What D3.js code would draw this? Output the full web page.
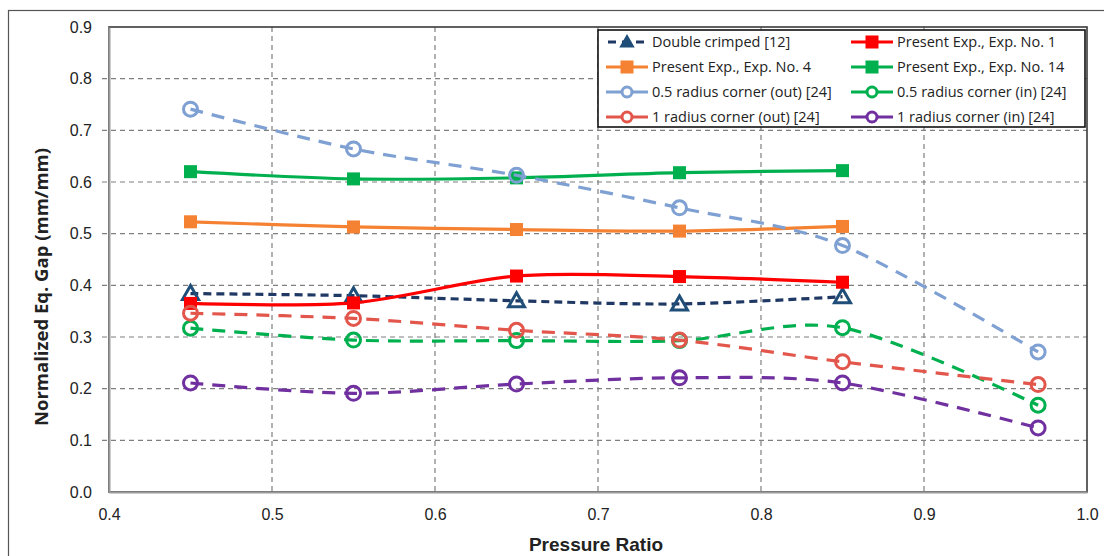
<!DOCTYPE html>
<html>
<head>
<meta charset="utf-8">
<script src="https://cdn.jsdelivr.net/npm/d3@7"></script>
<style>
  body { margin: 0; background: #fff; }
  svg text { fill: #222; }
</style>
</head>
<body>
<div id="vis"></div>
<script>
// chart size + plot margins
const FRAME_WIDTH = 1104;
const FRAME_HEIGHT = 556;
const MARGINS = {left: 109, right: 17, top: 27, bottom: 64};

// data
const xTicks = [0.4, 0.5, 0.6, 0.7, 0.8, 0.9, 1.0];
const yTicks = [0.0, 0.1, 0.2, 0.3, 0.4, 0.5, 0.6, 0.7, 0.8, 0.9];
const xExp = [0.45, 0.55, 0.65, 0.75, 0.85];
const xRef = [0.45, 0.55, 0.65, 0.75, 0.85, 0.97];

const doubleCrimped = [0.384, 0.380, 0.370, 0.364, 0.378];
const exp1 = [0.365, 0.366, 0.418, 0.417, 0.406];
const exp4 = [0.523, 0.513, 0.508, 0.505, 0.514];
const exp14 = [0.620, 0.606, 0.608, 0.618, 0.622];
const r05out = [0.741, 0.664, 0.613, 0.550, 0.477, 0.271];
const r05in = [0.317, 0.294, 0.293, 0.293, 0.318, 0.168];
const r1out = [0.346, 0.336, 0.313, 0.294, 0.252, 0.208];
const r1in = [0.211, 0.191, 0.209, 0.221, 0.211, 0.124];

const seriesNames = [
  "Double crimped [12]", "Present Exp., Exp. No. 1",
  "Present Exp., Exp. No. 4", "Present Exp., Exp. No. 14",
  "0.5 radius corner (out) [24]", "0.5 radius corner (in) [24]",
  "1 radius corner (out) [24]", "1 radius corner (in) [24]"
];

// series styling
const series = [
  {name: seriesNames[0], xs: xExp, ys: doubleCrimped, color: "#1f3864", marker: "tri", dash: "8,5", mcolor: "#1f4e79"},
  {name: seriesNames[1], xs: xExp, ys: exp1, color: "#ff0000", marker: "sq", dash: null},
  {name: seriesNames[2], xs: xExp, ys: exp4, color: "#f58232", marker: "sq", dash: null},
  {name: seriesNames[3], xs: xExp, ys: exp14, color: "#00b04f", marker: "sq", dash: null},
  {name: seriesNames[4], xs: xRef, ys: r05out, color: "#7fa0d2", marker: "circ", dash: "13,9"},
  {name: seriesNames[5], xs: xRef, ys: r05in, color: "#00b04f", marker: "circ", dash: "13,9"},
  {name: seriesNames[6], xs: xRef, ys: r1out, color: "#e2564c", marker: "circ", dash: "13,9"},
  {name: seriesNames[7], xs: xRef, ys: r1in, color: "#7030a0", marker: "circ", dash: "13,9"}
];

const VIS_WIDTH = FRAME_WIDTH - MARGINS.left - MARGINS.right;
const VIS_HEIGHT = FRAME_HEIGHT - MARGINS.top - MARGINS.bottom;

const FRAME = d3.select("#vis")
  .append("svg")
    .attr("width", FRAME_WIDTH)
    .attr("height", FRAME_HEIGHT)
    .style("font-family", "'Open Sans', 'Liberation Sans', sans-serif");

// outer frame of the figure
FRAME.append("rect")
  .attr("x", 8.5).attr("y", 10.5)
  .attr("width", 1110).attr("height", 600)
  .attr("fill", "none")
  .attr("stroke", "#555").attr("stroke-width", 1.2);

const X_SCALE = d3.scaleLinear().domain([0.4, 1.0]).range([0, VIS_WIDTH]);
const Y_SCALE = d3.scaleLinear().domain([0, 0.9]).range([VIS_HEIGHT, 0]);

const G = FRAME.append("g")
  .attr("transform", "translate(" + MARGINS.left + "," + MARGINS.top + ")");

// dashed grid
G.selectAll(".hgrid")
  .data(yTicks.slice(1, -1))
  .enter()
  .append("line")
    .attr("x1", -7).attr("x2", VIS_WIDTH)
    .attr("y1", (d) => Y_SCALE(d)).attr("y2", (d) => Y_SCALE(d))
    .attr("stroke", "#7f7f7f").attr("stroke-width", 1.2)
    .attr("stroke-dasharray", "5,4");

G.selectAll(".vgrid")
  .data(xTicks.slice(1, -1))
  .enter()
  .append("line")
    .attr("x1", (d) => X_SCALE(d)).attr("x2", (d) => X_SCALE(d))
    .attr("y1", 0).attr("y2", VIS_HEIGHT)
    .attr("stroke", "#7f7f7f").attr("stroke-width", 1.2)
    .attr("stroke-dasharray", "5,4");

// plot box
G.append("rect")
  .attr("x", 0).attr("y", 0)
  .attr("width", VIS_WIDTH).attr("height", VIS_HEIGHT)
  .attr("fill", "none")
  .attr("stroke", "#3a3a3a").attr("stroke-width", 1.6);

// axes (left + bottom drawn lighter like the original)
const yAxis = G.append("g")
  .call(d3.axisLeft(Y_SCALE).tickValues(yTicks).tickFormat(d3.format(".1f")).tickSize(0).tickPadding(17));
yAxis.select(".domain").attr("stroke", "#9a9a9a").attr("stroke-width", 2);
yAxis.selectAll("text").attr("font-size", 16).attr("fill", "#222");

const xAxis = G.append("g")
  .attr("transform", "translate(0," + VIS_HEIGHT + ")")
  .call(d3.axisBottom(X_SCALE).tickValues(xTicks).tickFormat(d3.format(".1f")).tickSize(0).tickPadding(17));
xAxis.select(".domain").attr("stroke", "#9a9a9a").attr("stroke-width", 2);
xAxis.selectAll("text")
  .attr("font-size", 16)
  .attr("fill", "#222")
  .style("font-family", "'Liberation Sans Narrow', 'Liberation Sans', sans-serif");

// axis titles
FRAME.append("text")
  .attr("x", 596)
  .attr("y", 551)
  .attr("text-anchor", "middle")
  .attr("font-size", 19).attr("font-weight", "bold")
  .style("font-family", "'Liberation Sans Narrow', 'Liberation Sans', sans-serif")
  .text("Pressure Ratio");

FRAME.append("text")
  .attr("transform", "translate(48,287) rotate(-90)")
  .attr("text-anchor", "middle")
  .attr("font-size", 18.5).attr("font-weight", "bold")
  .text("Normalized Eq. Gap (mm/mm)");

// lines + markers
const line = d3.line()
  .x((d) => X_SCALE(d[0]))
  .y((d) => Y_SCALE(d[1]))
  .curve(d3.curveCardinal.tension(0.1));

function drawMarker(sel, s, x, y, legend) {
  if (s.marker === "sq") {
    sel.append("rect")
      .attr("x", x - 6.5).attr("y", y - 6.5)
      .attr("width", 13).attr("height", 13)
      .attr("fill", s.color);
  } else if (s.marker === "tri") {
    const r = legend ? 6 : 8;
    sel.append("path")
      .attr("d", "M" + x + "," + (y - r) + "L" + (x + r) + "," + (y + r * 0.75) + "L" + (x - r) + "," + (y + r * 0.75) + "Z")
      .attr("fill", legend ? s.mcolor : "none")
      .attr("stroke", s.mcolor).attr("stroke-width", legend ? 2 : 3)
      .attr("stroke-linejoin", "miter");
  } else {
    sel.append("circle")
      .attr("cx", x).attr("cy", y)
      .attr("r", legend ? 5 : 7)
      .attr("fill", legend ? "#fff" : "none")
      .attr("stroke", s.color).attr("stroke-width", 3);
  }
}

series.forEach((s) => {
  const pts = s.xs.map((x, i) => [x, s.ys[i]]);
  const path = G.append("path")
    .datum(pts)
    .attr("d", line)
    .attr("fill", "none")
    .attr("stroke", s.color)
    .attr("stroke-width", 3.2);
  if (s.dash) path.attr("stroke-dasharray", s.dash);
  const mg = G.append("g");
  pts.forEach((p) => drawMarker(mg, s, X_SCALE(p[0]), Y_SCALE(p[1]), false));
});

// legend
const LEG = FRAME.append("g").attr("transform", "translate(598,30)");
LEG.append("rect")
  .attr("width", 487).attr("height", 97)
  .attr("fill", "#fff")
  .attr("stroke", "#111").attr("stroke-width", 1.6);

series.forEach((s, i) => {
  const col = i % 2;
  const row = Math.floor(i / 2);
  const x0 = 8 + col * 245;
  const y0 = 12 + row * 25;
  const ln = LEG.append("line")
    .attr("x1", x0).attr("x2", x0 + 42)
    .attr("y1", y0).attr("y2", y0)
    .attr("stroke", s.color).attr("stroke-width", 3.2);
  if (s.marker === "tri") ln.attr("stroke-dasharray", "8,6").attr("stroke-dashoffset", -2);
  drawMarker(LEG, s, x0 + 21, y0, true);
  LEG.append("text")
    .attr("x", x0 + 46).attr("y", y0 + 5)
    .attr("font-size", 14.5)
    .attr("fill", "#222")
    .text(s.name);
});
</script>
</body>
</html>
